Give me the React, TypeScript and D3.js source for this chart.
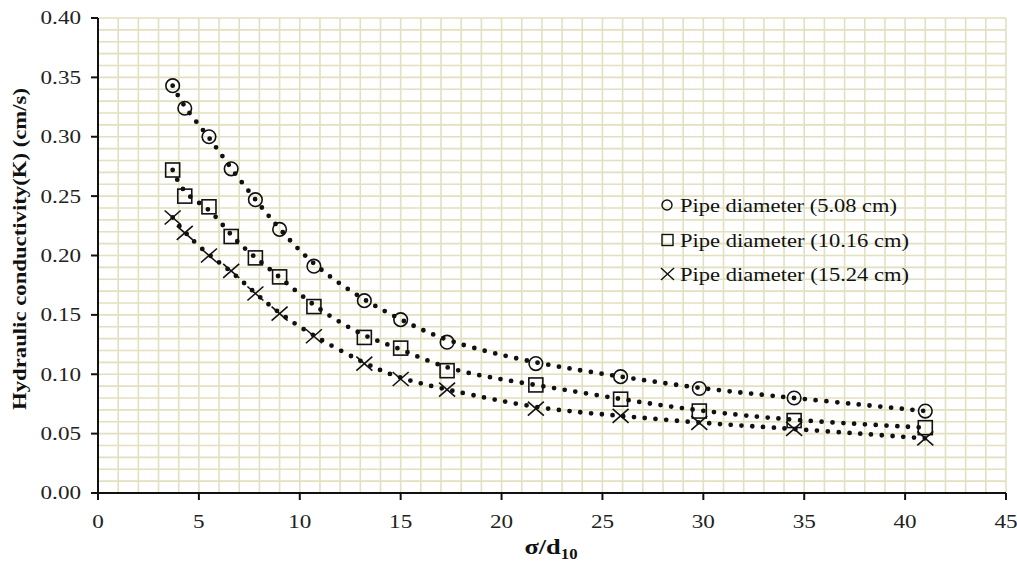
import React from "react";
import * as d3 from "d3";

const xValues = [3.7, 4.3, 5.5, 6.6, 7.8, 9.0, 10.7, 13.2, 15.0, 17.3, 21.7, 25.9, 29.8, 34.5, 41.0];
const series508 = [0.343, 0.324, 0.3, 0.273, 0.247, 0.222, 0.191, 0.162, 0.146, 0.127, 0.109, 0.098, 0.088, 0.08, 0.069];
const series1016 = [0.272, 0.25, 0.241, 0.216, 0.198, 0.182, 0.157, 0.131, 0.122, 0.103, 0.091, 0.079, 0.069, 0.061, 0.055];
const series1524 = [0.232, 0.219, 0.2, 0.187, 0.168, 0.151, 0.132, 0.109, 0.096, 0.087, 0.071, 0.065, 0.059, 0.054, 0.046];
const seriesNames = ["Pipe diameter (5.08 cm)", "Pipe diameter (10.16 cm)", "Pipe diameter (15.24 cm)"];
const xTicks = [0, 5, 10, 15, 20, 25, 30, 35, 40, 45];
const yTicks = [0, 0.05, 0.1, 0.15, 0.2, 0.25, 0.3, 0.35, 0.4];

const L = 98, R = 1006, T = 18, B = 493;
const x = d3.scaleLinear().domain([0, 45]).range([L, R]);
const y = d3.scaleLinear().domain([0, 0.4]).range([B, T]);

function Marker({ kind, cx, cy }: { kind: number; cx: number; cy: number }) {
  if (kind === 0) return <circle cx={cx} cy={cy} r={6.8} fill="none" stroke="#111" strokeWidth={1.6} />;
  if (kind === 1) return <rect x={cx - 7} y={cy - 7} width={14} height={14} fill="none" stroke="#111" strokeWidth={1.6} />;
  return (
    <g stroke="#111" strokeWidth={1.6}>
      <line x1={cx - 8} y1={cy - 7} x2={cx + 8} y2={cy + 7} />
      <line x1={cx - 8} y1={cy + 7} x2={cx + 8} y2={cy - 7} />
    </g>
  );
}

export default function App() {
  const all = [series508, series1016, series1524];
  const gridX = d3.range(0, 46, 1);
  const gridY = d3.range(0, 41, 1).map((v) => v / 100);
  const line = d3.line<number>().x((_, i) => x(xValues[i])).y((d) => y(d)).curve(d3.curveBasis);
  const font = "'Liberation Serif', 'Times New Roman', serif";
  const sx = 1.25;
  return (
    <svg width={1017} height={566} style={{ position: "absolute", left: 0, top: 0, background: "#fff" }} fontFamily={font}>
      <rect x={0} y={0} width={1017} height={566} fill="#fff" />
      <g stroke="#e2e0bf" strokeWidth={1.6}>
        {gridX.map((v) => <line key={"gx" + v} x1={x(v)} x2={x(v)} y1={T} y2={B} />)}
        {gridY.map((v) => <line key={"gy" + v} x1={L} x2={R} y1={y(v)} y2={y(v)} />)}
      </g>
      {all.map((s, k) => (
        <path key={"t" + k} d={line(s)!} fill="none" stroke="#111" strokeWidth={4.8} strokeLinecap="round" strokeDasharray="0 10.8" />
      ))}
      {all.map((s, k) => s.map((v, i) => <Marker key={k + "-" + i} kind={k} cx={x(xValues[i])} cy={y(v)} />))}
      <g stroke="#111" strokeWidth={2}>
        <line x1={L} x2={L} y1={T} y2={B + 1} />
        <line x1={L - 1} x2={R} y1={B} y2={B} />
        {yTicks.map((v) => <line key={"yt" + v} x1={L - 7} x2={L} y1={y(v)} y2={y(v)} />)}
        {xTicks.map((v) => <line key={"xt" + v} x1={x(v)} x2={x(v)} y1={B} y2={B + 7} />)}
      </g>
      <g fontSize={18.5} fill="#222">
        {yTicks.map((v) => (
          <text key={"yl" + v} transform={`translate(81,${y(v)}) scale(${sx},1)`} dy="0.35em" textAnchor="end">{v.toFixed(2)}</text>
        ))}
        {xTicks.map((v) => (
          <text key={"xl" + v} transform={`translate(${x(v)},528) scale(${sx},1)`} textAnchor="middle">{v}</text>
        ))}
      </g>
      <text transform="translate(26,249) rotate(-90)" textAnchor="middle" fontSize={18.5} fontWeight="bold" fill="#111" textLength={322} lengthAdjust="spacingAndGlyphs">
        Hydraulic  conductivity(K)  (cm/s)
      </text>
      <text transform={`translate(551,554) scale(1.2,1)`} textAnchor="middle" fontSize={22} fontWeight="bold" fill="#111">
        σ/d<tspan fontSize={14} dy={5}>10</tspan>
      </text>
      {seriesNames.map((n, k) => {
        const ly = [205, 240, 274][k];
        return (
          <g key={"lg" + k}>
            {k === 0 && <circle cx={667} cy={ly} r={5} fill="none" stroke="#111" strokeWidth={1.4} />}
            {k === 1 && <rect x={662} y={ly - 5.5} width={11} height={11} fill="none" stroke="#111" strokeWidth={1.4} />}
            {k === 2 && (
              <g stroke="#111" strokeWidth={1.4}>
                <line x1={661} y1={ly - 6} x2={674} y2={ly + 6} />
                <line x1={661} y1={ly + 6} x2={674} y2={ly - 6} />
              </g>
            )}
            <text x={680} y={ly} dy="0.36em" fontSize={19} fill="#111" textLength={k === 0 ? 217 : 229} lengthAdjust="spacingAndGlyphs">{n}</text>
          </g>
        );
      })}
    </svg>
  );
}
